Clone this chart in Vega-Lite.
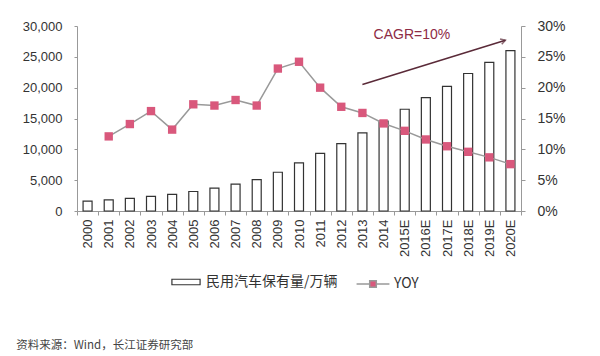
{
  "$schema": "https://vega.github.io/schema/vega-lite/v6.json",
  "width": 600,
  "height": 356,
  "autosize": {"type": "fit", "contains": "padding"},
  "padding": {"top": 19, "left": 16, "right": 34, "bottom": 4},
  "background": "white",
  "config": {
    "font": "Liberation Sans",
    "view": {"stroke": null},
    "axis": {"labelFont": "Liberation Sans", "labelFontSize": 14, "labelColor": "#333", "domainColor": "#999", "tickColor": "#999", "grid": false, "title": null},
    "legend": {"orient": "bottom", "direction": "horizontal", "labelFontSize": 14, "labelColor": "#333", "labelFont": "Noto Sans CJK SC", "title": null, "layout": {"bottom": {"anchor": "middle", "margin": 26}}}
  },
  "data": {"values": [
    {"year": "2000", "vehicles": 1609, "yoy": null},
    {"year": "2001", "vehicles": 1802, "yoy": 0.121},
    {"year": "2002", "vehicles": 2053, "yoy": 0.141},
    {"year": "2003", "vehicles": 2383, "yoy": 0.162},
    {"year": "2004", "vehicles": 2694, "yoy": 0.132},
    {"year": "2005", "vehicles": 3160, "yoy": 0.173},
    {"year": "2006", "vehicles": 3697, "yoy": 0.171},
    {"year": "2007", "vehicles": 4358, "yoy": 0.180},
    {"year": "2008", "vehicles": 5100, "yoy": 0.171},
    {"year": "2009", "vehicles": 6281, "yoy": 0.231},
    {"year": "2010", "vehicles": 7802, "yoy": 0.242},
    {"year": "2011", "vehicles": 9356, "yoy": 0.200},
    {"year": "2012", "vehicles": 10933, "yoy": 0.169},
    {"year": "2013", "vehicles": 12670, "yoy": 0.159},
    {"year": "2014", "vehicles": 14598, "yoy": 0.142},
    {"year": "2015E", "vehicles": 16500, "yoy": 0.130},
    {"year": "2016E", "vehicles": 18400, "yoy": 0.116},
    {"year": "2017E", "vehicles": 20200, "yoy": 0.105},
    {"year": "2018E", "vehicles": 22300, "yoy": 0.096},
    {"year": "2019E", "vehicles": 24100, "yoy": 0.087},
    {"year": "2020E", "vehicles": 26000, "yoy": 0.076}
  ]},
  "title": {"text": "资料来源：Wind，长江证券研究部", "orient": "bottom", "anchor": "start", "frame": "bounds", "font": "Noto Sans CJK SC", "fontSize": 11.5, "fontWeight": "normal", "color": "#444", "offset": 49, "dx": -6},
  "encoding": {
    "x": {"field": "year", "type": "ordinal", "sort": null, "scale": {"paddingInner": 0, "paddingOuter": 0},
      "axis": {"labelAngle": -90, "labelAlign": "right", "labelBaseline": "middle", "tickBand": "extent", "tickSize": 4, "labelPadding": 4, "labelFontSize": 13}}
  },
  "layer": [
    {
      "mark": {"type": "bar", "size": 9, "stroke": "#333", "strokeWidth": 1.2},
      "encoding": {
        "y": {"field": "vehicles", "type": "quantitative", "scale": {"domain": [0, 30000]},
          "axis": {"values": [0, 5000, 10000, 15000, 20000, 25000, 30000], "format": ",d", "tickSize": 3, "labelPadding": 12, "labelFontSize": 13}},
        "fill": {"datum": "民用汽车保有量/万辆", "scale": {"range": ["white"]},
          "legend": {"symbolType": "M-2.3,-0.45H2.3V0.45H-2.3Z", "symbolSize": 150, "symbolStrokeColor": "#333", "symbolStrokeWidth": 1.2, "labelLimit": 300, "labelOffset": 13}}
      }
    },
    {
      "transform": [{"filter": "datum.yoy != null"}],
      "layer": [
        {
          "mark": {"type": "line", "strokeWidth": 1.5},
          "encoding": {
            "y": {"field": "yoy", "type": "quantitative", "scale": {"domain": [0, 0.3]},
              "axis": {"orient": "right", "values": [0, 0.05, 0.1, 0.15, 0.2, 0.25, 0.3], "format": ".0%", "tickSize": 4, "labelPadding": 12}},
            "stroke": {"datum": "YOY", "scale": {"range": ["#999"]},
              "legend": {"symbolType": "M-2,0H-0.4M0.4,0H2M-0.4,-0.4H0.4V0.4H-0.4Z", "symbolSize": 270, "symbolFillColor": "#d9587c", "symbolStrokeWidth": 1.5, "labelOffset": 12}}
          }
        },
        {
          "mark": {"type": "point", "shape": "square", "filled": true, "size": 70, "color": "#d9587c", "opacity": 1},
          "encoding": {"y": {"field": "yoy", "type": "quantitative", "scale": {"domain": [0, 0.3]},
              "axis": {"orient": "right", "values": [0, 0.05, 0.1, 0.15, 0.2, 0.25, 0.3], "format": ".0%", "tickSize": 4, "labelPadding": 12}}}
        }
      ]
    },
    {
      "data": {"values": [{"x": "2013", "x2": "2020E", "y": 20500, "y2": 27700, "label": "CAGR=10%", "lx": "2014", "ly": 28500}]},
      "layer": [
        {"mark": {"type": "rule", "stroke": "#5a2a38", "strokeWidth": 1.5, "x2Offset": -5},
         "encoding": {"x": {"field": "x", "type": "ordinal"}, "x2": {"field": "x2"}, "y": {"field": "y", "type": "quantitative", "scale": {"domain": [0, 30000]}, "axis": null}, "y2": {"field": "y2"}}},
        {"mark": {"type": "point", "shape": "M-1,-0.6L0,0L-1,0.6", "filled": false, "stroke": "#5a2a38", "strokeWidth": 1.5, "size": 90, "angle": -17.6, "xOffset": -5},
         "encoding": {"x": {"field": "x2", "type": "ordinal"}, "y": {"field": "y2", "type": "quantitative", "scale": {"domain": [0, 30000]}, "axis": null}}},
        {"mark": {"type": "text", "align": "left", "dx": -10, "fontSize": 14, "color": "#8e2b45", "font": "Liberation Sans"},
         "encoding": {"x": {"field": "lx", "type": "ordinal"}, "y": {"field": "ly", "type": "quantitative", "scale": {"domain": [0, 30000]}, "axis": null}, "text": {"field": "label"}}}
      ]
    }
  ],
  "resolve": {"scale": {"y": "independent", "fill": "independent", "stroke": "independent"}}
}
